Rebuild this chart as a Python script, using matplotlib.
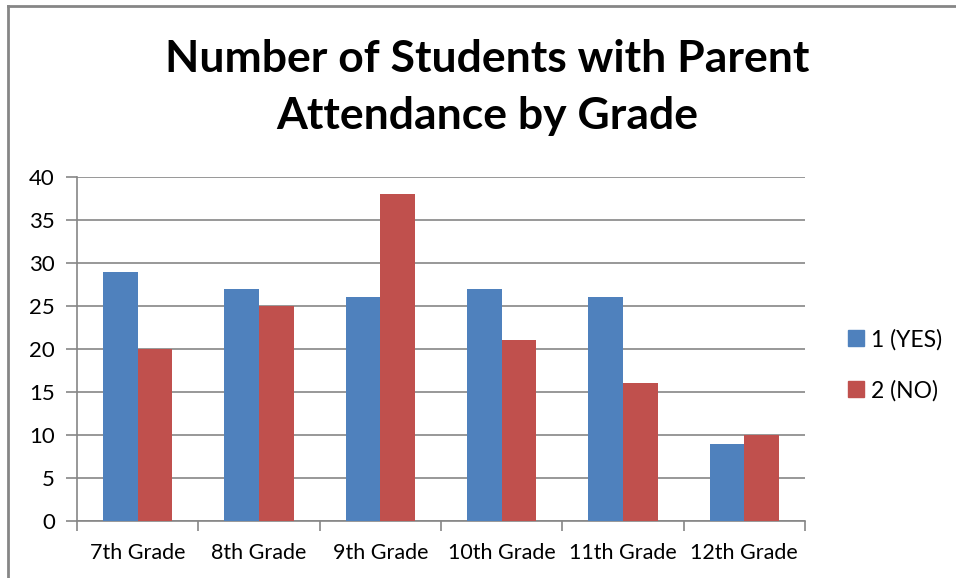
import numpy as np
import matplotlib
matplotlib.use('Agg')
import matplotlib.pyplot as plt
from matplotlib.lines import Line2D
from matplotlib.patches import Patch

grades = ['7th Grade', '8th Grade', '9th Grade', '10th Grade', '11th Grade', '12th Grade']
yes_vals = [29, 27, 26, 27, 26, 9]
no_vals = [20, 25, 38, 21, 16, 10]
series_names = ['1 (YES)', '2 (NO)']
yticks = [0, 5, 10, 15, 20, 25, 30, 35, 40]

plt.rcParams['font.family'] = ['Lato', 'DejaVu Sans']
blue = '#4F81BD'
red = '#C0504D'
grey = '#868686'

W, H = 956, 578
fig = plt.figure(figsize=(W / 100, H / 100), dpi=100)
ax = fig.add_axes([77 / W, 1 - 521 / H, (805 - 77) / W, (521 - 177) / H])

x = np.arange(len(grades))
bw = 0.285
ax.bar(x - bw / 2, yes_vals, bw, color=blue, zorder=3)
ax.bar(x + bw / 2, no_vals, bw, color=red, zorder=3)

ax.set_xlim(-0.5, len(grades) - 0.5)
ax.set_ylim(0, 40)
ax.set_yticks(yticks)
ax.yaxis.grid(True, color=grey, linewidth=1.2, zorder=0)
ax.set_xticks(x)
ax.set_xticklabels(grades)
ax.set_xticks(np.arange(len(grades) + 1) - 0.5, minor=True)
ax.tick_params(axis='x', which='major', length=0, pad=16, labelsize=15.5)
ax.tick_params(axis='x', which='minor', length=7, color=grey, width=1.2)
ax.tick_params(axis='y', length=8, color=grey, width=1.2, pad=8, labelsize=16)
for s in ['top', 'right']:
    ax.spines[s].set_visible(False)
for s in ['left', 'bottom']:
    ax.spines[s].set_color(grey)
    ax.spines[s].set_linewidth(1.2)

fig.text(487 / W, 1 - 59 / H, 'Number of Students with Parent', ha='center', va='center',
         fontsize=32, fontweight='bold')
fig.text(487 / W, 1 - 116 / H, 'Attendance by Grade', ha='center', va='center',
         fontsize=32, fontweight='bold')

handles = [Patch(color=blue), Patch(color=red)]
fig.legend(handles, series_names, loc='center left', bbox_to_anchor=(848 / W, 1 - 365 / H),
           frameon=False, fontsize=16.5, handlelength=0.7, handleheight=0.7,
           handletextpad=0.3, labelspacing=1.3, borderaxespad=0, borderpad=0)

# chart frame (top and left edges visible in the crop)
fig.add_artist(Line2D([7.5 / W, 1], [1 - 5.5 / H] * 2, transform=fig.transFigure,
                      color=grey, linewidth=2))
fig.add_artist(Line2D([7.5 / W] * 2, [0, 1 - 5.5 / H], transform=fig.transFigure,
                      color=grey, linewidth=2))

fig.savefig('out.png', dpi=100)
